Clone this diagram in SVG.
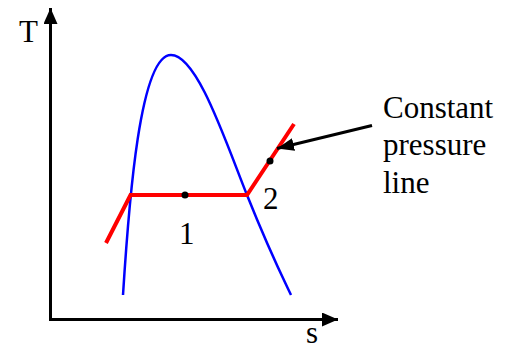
<svg xmlns="http://www.w3.org/2000/svg" width="509" height="351" viewBox="0 0 509 351">
<style>
.lbl{font-family:"Liberation Serif","Times New Roman",serif;font-size:31px;fill:#000}
.axis{stroke:#000;stroke-width:3;fill:none}
.dome{stroke:#0000ff;stroke-width:2.5;fill:none}
.pline{stroke:#ff0000;stroke-width:4;fill:none;stroke-linejoin:miter}
</style>
<defs>
<marker id="ah" markerWidth="16" markerHeight="14" refX="16" refY="7" orient="auto" markerUnits="userSpaceOnUse">
<path d="M0,0 L16,7 L0,14 Z" fill="#000"/>
</marker>
<marker id="ah2" markerWidth="17" markerHeight="13" refX="17" refY="6.5" orient="auto" markerUnits="userSpaceOnUse">
<path d="M0,0 L17,6.5 L0,13 Z" fill="#000"/>
</marker>
</defs>
<g id="axes">
<line class="axis" x1="50.5" y1="320" x2="50.5" y2="8" marker-end="url(#ah)"/>
<line class="axis" x1="49" y1="319.5" x2="338" y2="319.5" marker-end="url(#ah)"/>
<text class="lbl" x="19" y="42">T</text>
<text class="lbl" x="306" y="343">s</text>
</g>
<g id="dome">
<path class="dome" d="M123,295 C129,200 140,55 171,55 C197,55 225,140 247,195 S280,272 291,295"/>
</g>
<g id="pressure-line">
<polyline class="pline" points="106,243 130.5,195 247,195 294,124"/>
</g>
<g id="state1">
<circle cx="185" cy="195" r="3.5" fill="#000"/>
<text class="lbl" x="179" y="244">1</text>
</g>
<g id="state2">
<circle cx="270" cy="161" r="3.5" fill="#000"/>
<text class="lbl" x="263" y="209">2</text>
</g>
<g id="connectors">
<line x1="372" y1="125.5" x2="277" y2="148.5" stroke="#000" stroke-width="3" marker-end="url(#ah2)"/>
</g>
<g id="label">
<text class="lbl" x="383" y="118">Constant</text>
<text class="lbl" x="383" y="155">pressure</text>
<text class="lbl" x="383" y="193">line</text>
</g>
</svg>
